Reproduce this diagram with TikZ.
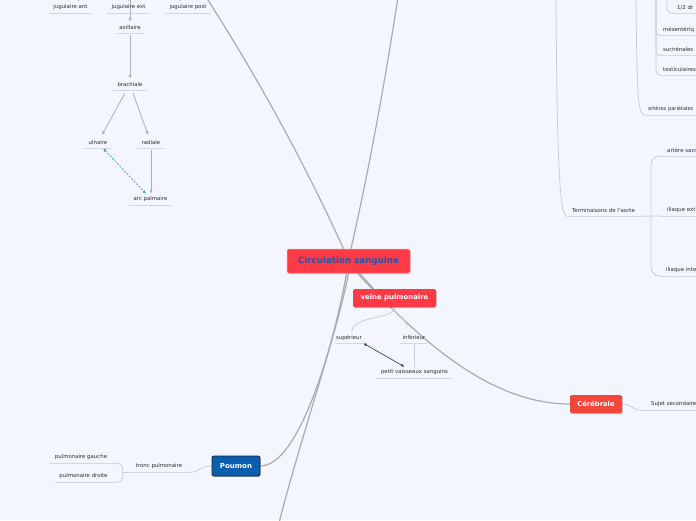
\documentclass[tikz,border=0pt]{standalone}
\usepackage{fontspec}
\setmainfont{DejaVu Sans}
\usetikzlibrary{arrows.meta,shadows}
\definecolor{bgc}{HTML}{F3F6FE}
\definecolor{brc}{HTML}{ABABAB}
\definecolor{cnc}{HTML}{C9CDD5}
\definecolor{ulc}{HTML}{D3D7DF}
\definecolor{arrowc}{HTML}{AFAFAF}
\definecolor{txt}{HTML}{2E2E2E}
\definecolor{redc}{HTML}{FD3A45}
\definecolor{redl}{HTML}{FF9AA0}
\definecolor{cerc}{HTML}{F2473A}
\definecolor{bluec}{HTML}{0B5DAE}
\definecolor{bluedk}{HTML}{15253A}
\definecolor{titlec}{HTML}{1E57A8}
\definecolor{dashbl}{HTML}{3C8FE6}
\definecolor{dkblue}{HTML}{2D3F6E}
\pgfdeclarelayer{back}
\pgfdeclarelayer{lines}
\pgfsetlayers{back,lines,main}
\begin{document}
\begin{tikzpicture}[x=1pt,y=-1pt,
  small/.style={font=\fontsize{5.4}{6}\selectfont, text=txt},
  uline/.style={draw=ulc, line width=0.8pt},
  topic/.style={small, inner sep=0pt, minimum height=11pt, minimum width=#1,
    append after command={(\tikzlastnode.south west) edge[uline] (\tikzlastnode.south east)}},
  rtopic/.style={small, inner xsep=#1, inner ysep=0pt, minimum height=11pt, text width=70pt,
    align=left, anchor=south west,
    append after command={(\tikzlastnode.south west) edge[uline] (\tikzlastnode.south east)}},
  box/.style={rounded corners=1.5pt, inner sep=0pt, text=white,
    font=\bfseries\fontsize{6.9}{8}\selectfont,
    drop shadow={shadow xshift=0.5pt, shadow yshift=-0.8pt, opacity=0.25, fill=black}},
  branch/.style={draw=brc, line width=1.2pt},
  conn/.style={draw=cnc, line width=0.8pt},
  arr/.style={draw=arrowc, line width=0.8pt, -{Latex[length=3.5pt,width=3.5pt]}},
  blarr/.style={draw=dashbl, line width=0.7pt, dash pattern=on 2pt off 1.5pt,
    {Latex[length=3.5pt,width=3pt]}-{Latex[length=3.5pt,width=3pt]}},
  dkarr/.style={draw=dkblue, line width=0.7pt,
    {Latex[length=3.5pt,width=3pt]}-{Latex[length=3.5pt,width=3pt]}},
]
\begin{pgfonlayer}{back}
\fill[bgc] (0,0) rectangle (696,520);
\end{pgfonlayer}
\useasboundingbox (0,0) rectangle (696,520);

% main boxes
\node[box, fill=redc, draw=redl, line width=0.5pt, minimum width=123pt, minimum height=24pt,
  text=titlec, font=\bfseries\fontsize{8.7}{10}\selectfont] (root) at (348.5,261) {Circulation sanguine};
\node[box, fill=redc, minimum width=83pt, minimum height=18pt] (vp) at (394.5,298) {veine pulmonaire};
\node[box, fill=cerc, minimum width=52pt, minimum height=18pt,
  font=\bfseries\fontsize{6.8}{8}\selectfont] (cer) at (596,404) {Cérébrale};
\node[box, fill=bluec, draw=bluedk, line width=0.8pt, rounded corners=2pt, minimum width=48pt,
  minimum height=20pt, font=\bfseries\fontsize{7}{8}\selectfont] (pou) at (236,466) {Poumon};

% topics left
\node[topic=43pt] (jant) at (70.5,7.5) {jugulaire ant};
\node[topic=43pt] (jext) at (128.5,7.5) {jugulaire ext};
\node[topic=46pt] (jpost) at (188,7.5) {jugulaire post};
\node[topic=28pt] (axil) at (130,27.5) {axillaire};
\node[topic=34pt] (brach) at (130,84.5) {brachiale};
\node[topic=28pt] (uln) at (98,142.5) {ulnaire};
\node[topic=28pt] (rad) at (151,142.5) {radiale};
\node[topic=43pt] (arcp) at (150.5,199.5) {arc palmaire};

% center topics
\node[topic=28pt] (sup) at (349,337.5) {supérieur};
\node[topic=28pt] (inf) at (414,337.5) {inférieur};
\node[topic=77pt] (petit) at (414.5,372.5) {petit vaisseaux sanguins};

% bottom left
\node[topic=62pt] (tronc) at (159,466.5) {tronc pulmonaire};
\node[topic=62pt] (pg) at (81,457.5) {pulmonaire gauche};
\node[topic=57pt] (pd) at (83.5,476.5) {pulmonaire droite};

% right
\node[topic=73pt] (term) at (603.5,210.5) {Terminaisons de l'aorte};
\node[rtopic=5pt] (half) at (672,13) {1/2 dr};
\node[rtopic=3pt] (mes) at (660,35.5) {mésentériq};
\node[rtopic=3pt] (sur) at (660,55.5) {sur/rénales};
\node[rtopic=3pt] (test) at (660,75) {testiculaires};
\node[rtopic=3pt, font=\fontsize{5.1}{6}\selectfont] (pariet) at (645,115) {artères pariétales};
\node[rtopic=7pt] (sacr) at (660,156) {artère sacr};
\node[rtopic=7pt] (iext) at (660,216) {iliaque ext};
\node[rtopic=6pt] (iint) at (660,276) {iliaque inte};
\node[rtopic=11pt] (sujet) at (640,410) {Sujet secondaire};

% off-canvas ends
\coordinate (oTL) at (206,-3);
\coordinate (oT) at (398,-3);
\coordinate (oB) at (279,523);
\coordinate (oR1) at (556,-3);
\coordinate (oR2) at (636,-3);
\coordinate (oR3) at (656,-3);
\coordinate (oR4) at (667,-3);
\coordinate (oA) at (130,-3);
\coordinate (oJa) at (78.5,-5);
\coordinate (oJe) at (128.5,-5);
\coordinate (oJp) at (180,-5);

\begin{pgfonlayer}{lines}
% main branches
\draw[branch] (oTL) .. controls (258,78) and (304,162) .. ([xshift=-5pt]root.north);
\draw[branch] (oT) .. controls (385,81) and (370,165) .. ([xshift=2.5pt]root.north);
\draw[branch] ([xshift=11pt]root.south) -- ([xshift=-21pt]vp.north);
\draw[branch] ([xshift=9pt]root.south) .. controls (420,340) and (490,404) .. (cer.west);
\draw[branch] ([xshift=-2pt]root.south) .. controls (335,340) and (300,466) .. (pou.east);
\draw[branch] (root.south) .. controls (338,330) and (300,440) .. (oB);

% sub connectors
\draw[conn] (vp.south) .. controls (394.5,320) and (352,315) .. ([xshift=3pt]sup.north);
\draw[conn] (vp.south) .. controls (394.5,318) and (407,318) .. ([xshift=-7pt,yshift=5pt]inf.north);
\draw[conn] (inf.south) -- (inf.south |- petit.north);
\draw[dkarr] (sup.south east) -- ([xshift=-10pt]petit.north);

\draw[conn] (cer.east) .. controls (632,404) and (632,410) .. (sujet.south west);
\draw[conn] (pou.west) .. controls (200,466) and (200,472) .. (tronc.south east);
\draw[conn, rounded corners=6pt] (pg.south east) -| ([xshift=-5pt]tronc.south west) |- (pd.south east);
\draw[conn] ([xshift=-5pt]tronc.south west) -- (tronc.south west);

\draw[conn] (oR1) .. controls (557,150) and (559,216) .. (term.south west);
\draw[conn] (oR2) .. controls (637,100) and (638,115) .. (pariet.south west);
\draw[conn, rounded corners=4pt] (oR3) |- (mes.south west);
\draw[conn, rounded corners=4pt] (oR3) |- (sur.south west);
\draw[conn, rounded corners=4pt] (oR3) |- (test.south west);
\draw[conn, rounded corners=4pt] (oR4) |- (half.south west);
\draw[conn] (term.south east) -- (iext.south west);
\draw[conn, rounded corners=9pt] (sacr.south west) -| ([xshift=-9pt]iext.south west) |- (iint.south west);

% arrows left
\draw[arr] (oJa) -- ([xshift=8pt]jant.north);
\draw[arr] (oJe) -- (jext.north);
\draw[arr] (oJp) -- ([xshift=-8pt]jpost.north);
\draw[arr] (oA) -- (axil.north);
\draw[arr, shorten <=2pt] (axil.south) -- (brach.north);
\draw[arr] ([xshift=-5pt,yshift=-3pt]brach.south) -- ([xshift=4pt,yshift=2pt]uln.north);
\draw[arr] ([xshift=3pt,yshift=-3pt]brach.south) -- ([xshift=-3pt,yshift=2pt]rad.north);
\draw[arr, shorten <=2pt] (rad.south) -- (rad.south |- arcp.north);
\draw[blarr] ([xshift=5pt]uln.south) -- ([xshift=-4.5pt]arcp.north);
\end{pgfonlayer}
\end{tikzpicture}
\end{document}
